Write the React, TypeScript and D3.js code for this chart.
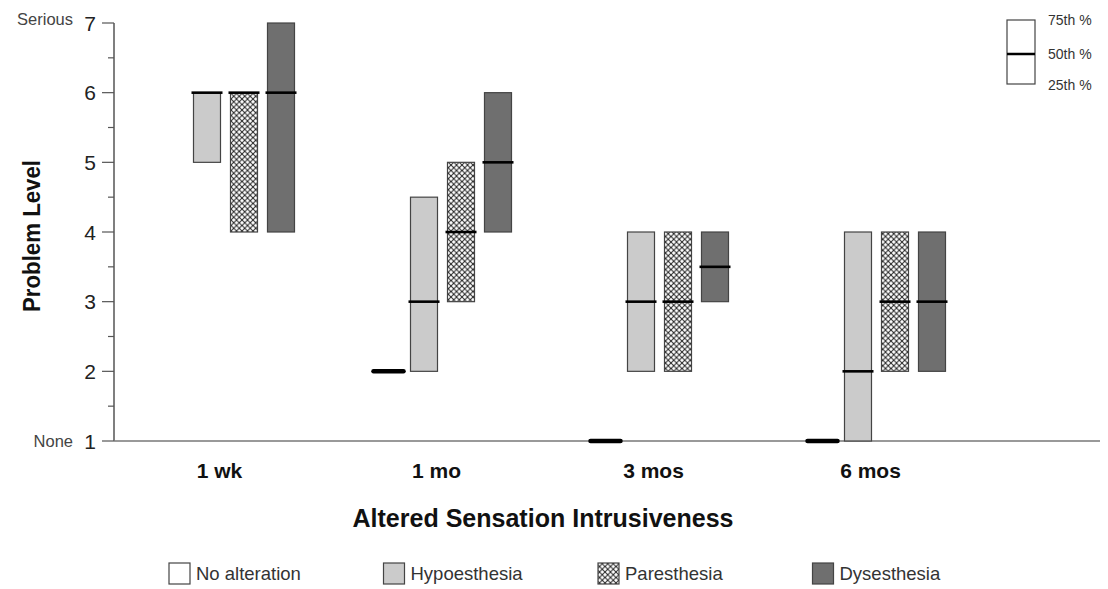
import React from "react";
import * as d3 from "d3";

const categories = ["1 wk", "1 mo", "3 mos", "6 mos"];
const series = ["No alteration", "Hypoesthesia", "Paresthesia", "Dysesthesia"];
// [25th, 50th, 75th] per category, null = not shown
const noAlteration: (number[] | null)[] = [null, [2, 2, 2], [1, 1, 1], [1, 1, 1]];
const hypoesthesia: number[][] = [[5, 6, 6], [2, 3, 4.5], [2, 3, 4], [1, 2, 4]];
const paresthesia: number[][] = [[4, 6, 6], [3, 4, 5], [2, 3, 4], [2, 3, 4]];
const dysesthesia: number[][] = [[4, 6, 7], [4, 5, 6], [3, 3.5, 4], [2, 3, 4]];
const yTicks = [1, 2, 3, 4, 5, 6, 7];
const yMinorTicks = [1.5, 2.5, 3.5, 4.5, 5.5, 6.5];

const W = 1108, H = 589;
const FONT = "'Liberation Sans', Arial, sans-serif";

export default function App() {
  const x = d3.scaleBand<string>().domain(categories).range([117, 985]);
  const y = d3.scaleLinear().domain([1, 7]).range([441, 23]);
  const sub = d3.scaleBand<string>().domain(series).range([-69, 69]).paddingInner(0.27).paddingOuter(0);
  const bw = sub.bandwidth();
  const data = [noAlteration, hypoesthesia, paresthesia, dysesthesia];
  const fills = ["#ffffff", "#cbcbcb", "url(#hatch)", "#6f6f6f"];
  const stroke = "#444";

  return (
    <svg width={W} height={H} style={{ position: "absolute", left: 0, top: 0, background: "#fff" }}>
      <defs>
        <pattern id="hatch" width="5.5" height="5.5" patternUnits="userSpaceOnUse">
          <rect width="5.5" height="5.5" fill="#fff" />
          <path d="M0,0 L5.5,5.5 M5.5,0 L0,5.5" stroke="#222" strokeWidth="1" />
        </pattern>
      </defs>

      {/* Y axis */}
      <line x1={114} x2={114} y1={y(7)} y2={y(1)} stroke="#555" strokeWidth={1.5} />
      <line x1={114} x2={1100} y1={y(1)} y2={y(1)} stroke="#777" strokeWidth={1.5} />
      {yTicks.map(t => (
        <g key={t}>
          <line x1={102} x2={114} y1={y(t)} y2={y(t)} stroke="#555" strokeWidth={1.2} />
          <text x={96} y={y(t)} dy="0.36em" textAnchor="end" fontFamily={FONT} fontSize={21} fill="#222">{t}</text>
        </g>
      ))}
      {yMinorTicks.map(t => (
        <line key={t} x1={108} x2={114} y1={y(t)} y2={y(t)} stroke="#555" strokeWidth={1.2} />
      ))}
      <text x={73} y={y(7) + 2} textAnchor="end" fontFamily={FONT} fontSize={16.5} fill="#444">Serious</text>
      <text x={73} y={y(1)} dy="0.36em" textAnchor="end" fontFamily={FONT} fontSize={16.5} fill="#444">None</text>
      <text transform={`translate(40,236) rotate(-90)`} textAnchor="middle" fontFamily={FONT} fontSize={24} fontWeight="bold" fill="#111" textLength={152} lengthAdjust="spacingAndGlyphs">Problem Level</text>

      {/* Category labels */}
      {categories.map(c => (
        <text key={c} x={(x(c) as number) + x.bandwidth() / 2 - 6} y={478} textAnchor="middle" fontFamily={FONT} fontSize={21} fontWeight="bold" fill="#111">{c}</text>
      ))}
      <text x={543} y={527} textAnchor="middle" fontFamily={FONT} fontSize={25} fontWeight="bold" fill="#111" textLength={381} lengthAdjust="spacingAndGlyphs">Altered Sensation Intrusiveness</text>

      {/* Boxes */}
      {categories.map((c, ci) => {
        const cx = (x(c) as number) + x.bandwidth() / 2;
        return (
          <g key={c}>
            {series.map((s, si) => {
              const v = data[si][ci];
              if (!v) return null;
              const x0 = cx + (sub(s) as number);
              if (si === 0) {
                return (
                  <line key={s} x1={x0} x2={x0 + bw + 3} y1={y(v[1])} y2={y(v[1])} stroke="#000" strokeWidth={4.5} strokeLinecap="round" />
                );
              }
              return (
                <g key={s}>
                  <rect x={x0} y={y(v[2])} width={bw} height={y(v[0]) - y(v[2])} fill={fills[si]} stroke={stroke} strokeWidth={1.2} />
                  <line x1={x0 - 2} x2={x0 + bw + 2} y1={y(v[1])} y2={y(v[1])} stroke="#000" strokeWidth={2.6} />
                </g>
              );
            })}
          </g>
        );
      })}

      {/* Percentile legend */}
      <rect x={1007} y={20} width={28} height={64} fill="#fff" stroke="#444" strokeWidth={1.2} />
      <line x1={1007} x2={1035} y1={54} y2={54} stroke="#000" strokeWidth={2.5} />
      <text x={1048} y={25} fontFamily={FONT} fontSize={14} fill="#333">75th %</text>
      <text x={1048} y={59} fontFamily={FONT} fontSize={14} fill="#333">50th %</text>
      <text x={1048} y={90} fontFamily={FONT} fontSize={14} fill="#333">25th %</text>

      {/* Series legend */}
      {series.map((s, i) => {
        const lx = 169 + i * 214.5;
        return (
          <g key={s}>
            <rect x={lx} y={563} width={21} height={21} fill={fills[i]} stroke="#444" strokeWidth={1.2} />
            <text x={lx + 27} y={580} fontFamily={FONT} fontSize={18.5} fill="#333">{s}</text>
          </g>
        );
      })}
    </svg>
  );
}
